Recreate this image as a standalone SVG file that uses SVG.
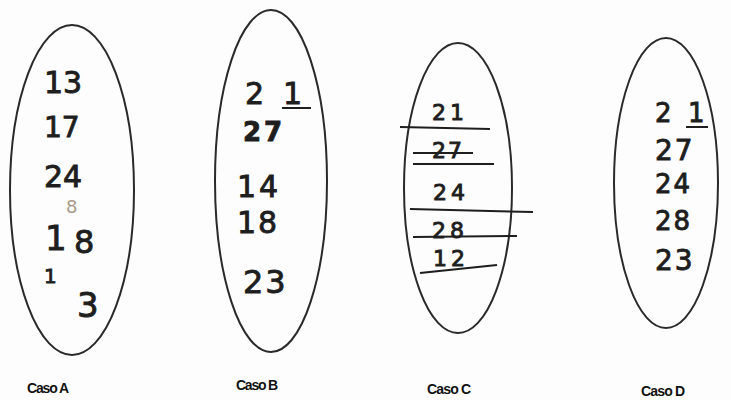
<svg xmlns="http://www.w3.org/2000/svg" width="731" height="400" viewBox="0 0 731 400">
<style>
.ell{fill:none;stroke:#2a2a2a;stroke-width:2}
.hw{font-family:"DejaVu Sans","Liberation Sans",sans-serif;fill:#1e1e1e;stroke:#1e1e1e;stroke-width:0.9}
.lbl{font-family:"Liberation Sans",Arial,sans-serif;font-weight:bold;font-size:14px;fill:#111}
.st{stroke:#1e1e1e;stroke-width:2;fill:none}
</style>
<rect width="731" height="400" fill="#fdfdfd"/>
<g id="casoA">
<ellipse class="ell" cx="72" cy="190" rx="62" ry="165"/>
<text class="hw" x="44" y="93" font-size="30">13</text>
<text class="hw" x="44" y="137" font-size="28">17</text>
<text class="hw" x="44" y="187" font-size="30">24</text>
<text x="66" y="213" font-size="18" style="font-family:'DejaVu Sans',sans-serif;fill:#a89a8a">8</text>
<text class="hw" x="45" y="250" font-size="34">1</text>
<text class="hw" x="74" y="253" font-size="32">8</text>
<text class="hw" x="44" y="283" font-size="20">1</text>
<text class="hw" x="77" y="317" font-size="34">3</text>
</g>
<g id="casoB">
<ellipse class="ell" cx="271" cy="181" rx="56" ry="171"/>
<text class="hw" x="245" y="104" font-size="30">2</text>
<text class="hw" x="283" y="104" font-size="30">1</text>
<line class="st" x1="282" y1="108" x2="311" y2="108"/>
<text class="hw" x="243" y="141" font-size="26" font-weight="bold" letter-spacing="3">27</text>
<text class="hw" x="237" y="197" font-size="30" letter-spacing="3">14</text>
<text class="hw" x="237" y="233" font-size="30" letter-spacing="2">18</text>
<text class="hw" x="243" y="293" font-size="32" letter-spacing="2">23</text>
</g>
<g id="casoC">
<ellipse class="ell" cx="458" cy="188" rx="54" ry="145"/>
<text class="hw" x="432" y="120" font-size="22" letter-spacing="4">21</text>
<text class="hw" x="432" y="158" font-size="22" letter-spacing="2">27</text>
<text class="hw" x="433" y="200" font-size="22" letter-spacing="4">24</text>
<text class="hw" x="432" y="238" font-size="22" letter-spacing="4">28</text>
<text class="hw" x="433" y="266" font-size="22" letter-spacing="4">12</text>
</g>
<g id="connectors">
<line class="st" x1="400" y1="127" x2="490" y2="129"/>
<line class="st" x1="413" y1="153" x2="473" y2="153"/>
<line class="st" x1="413" y1="164" x2="494" y2="164"/>
<line class="st" x1="410" y1="209" x2="533" y2="212"/>
<line class="st" x1="413" y1="237" x2="517" y2="236"/>
<line class="st" x1="420" y1="273" x2="497" y2="265"/>
</g>
<g id="casoD">
<ellipse class="ell" cx="666" cy="183" rx="52" ry="145"/>
<text class="hw" x="655" y="122" font-size="26">2</text>
<text class="hw" x="688" y="122" font-size="26">1</text>
<line class="st" x1="686" y1="127" x2="708" y2="127"/>
<text class="hw" x="655" y="160" font-size="28" letter-spacing="2">27</text>
<text class="hw" x="655" y="193" font-size="26" letter-spacing="2">24</text>
<text class="hw" x="655" y="230" font-size="26" letter-spacing="2">28</text>
<text class="hw" x="655" y="270" font-size="28" letter-spacing="2">23</text>
</g>
<g id="labels">
<text class="lbl" x="27" y="393" textLength="42">Caso A</text>
<text class="lbl" x="236" y="390" textLength="42">Caso B</text>
<text class="lbl" x="427" y="394" textLength="44">Caso C</text>
<text class="lbl" x="641" y="396" textLength="44">Caso D</text>
</g>
</svg>
